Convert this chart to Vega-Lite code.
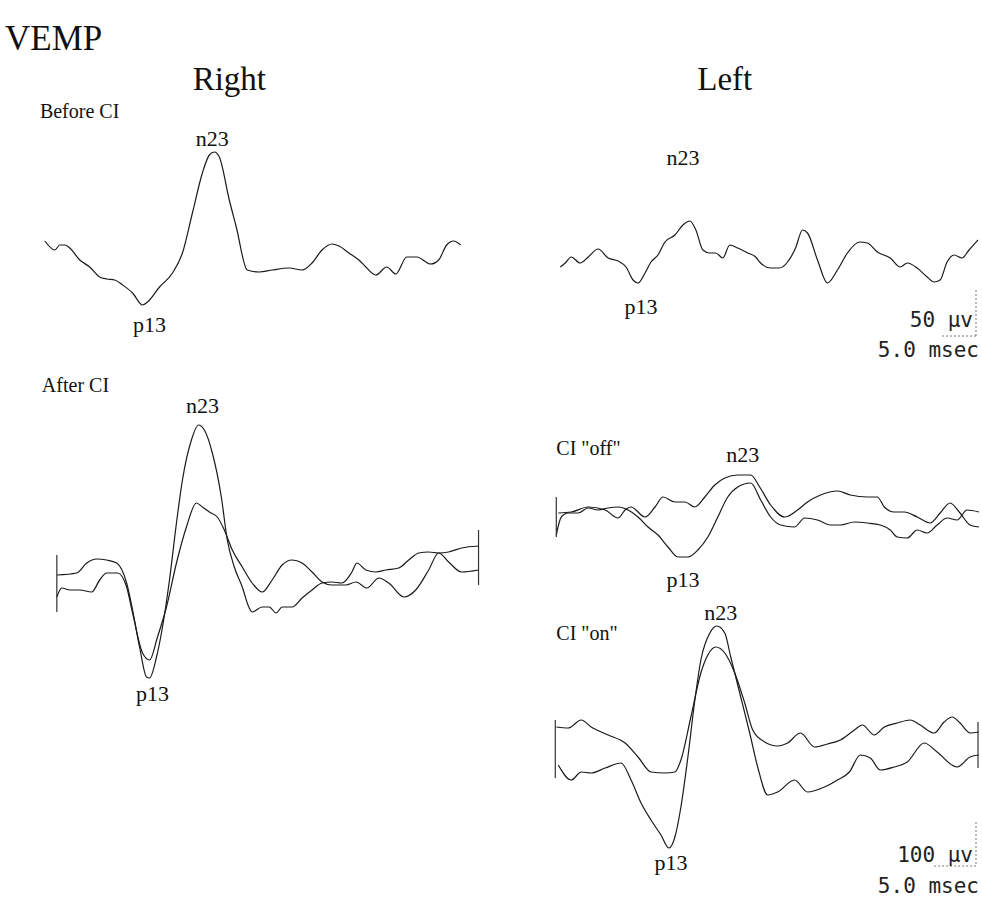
{
  "$schema": "https://vega.github.io/schema/vega-lite/v6.json",
  "width": 982,
  "height": 900,
  "autosize": {"type": "fit", "contains": "padding"},
  "padding": 0,
  "background": "white",
  "config": {"view": {"stroke": null}},
  "datasets": {
    "traces": [
      {"trace": "R_before", "x": 45, "y": 241}, {"trace": "R_before", "x": 55, "y": 250}, {"trace": "R_before", "x": 60, "y": 245}, {"trace": "R_before", "x": 65, "y": 245}, {"trace": "R_before", "x": 70, "y": 248}, {"trace": "R_before", "x": 80, "y": 260}, {"trace": "R_before", "x": 90, "y": 267}, {"trace": "R_before", "x": 100, "y": 277}, {"trace": "R_before", "x": 107, "y": 279}, {"trace": "R_before", "x": 115, "y": 280}, {"trace": "R_before", "x": 123, "y": 285}, {"trace": "R_before", "x": 133, "y": 293}, {"trace": "R_before", "x": 143, "y": 305}, {"trace": "R_before", "x": 148, "y": 302}, {"trace": "R_before", "x": 160, "y": 287}, {"trace": "R_before", "x": 173, "y": 273}, {"trace": "R_before", "x": 183, "y": 253}, {"trace": "R_before", "x": 193, "y": 213}, {"trace": "R_before", "x": 203, "y": 173}, {"trace": "R_before", "x": 210, "y": 155}, {"trace": "R_before", "x": 215, "y": 152}, {"trace": "R_before", "x": 220, "y": 157}, {"trace": "R_before", "x": 230, "y": 200}, {"trace": "R_before", "x": 237, "y": 227}, {"trace": "R_before", "x": 248, "y": 270}, {"trace": "R_before", "x": 260, "y": 272}, {"trace": "R_before", "x": 273, "y": 270}, {"trace": "R_before", "x": 290, "y": 268}, {"trace": "R_before", "x": 303, "y": 270}, {"trace": "R_before", "x": 313, "y": 263}, {"trace": "R_before", "x": 323, "y": 250}, {"trace": "R_before", "x": 333, "y": 244}, {"trace": "R_before", "x": 340, "y": 246}, {"trace": "R_before", "x": 350, "y": 253}, {"trace": "R_before", "x": 360, "y": 260}, {"trace": "R_before", "x": 367, "y": 267}, {"trace": "R_before", "x": 377, "y": 275}, {"trace": "R_before", "x": 388, "y": 267}, {"trace": "R_before", "x": 397, "y": 274}, {"trace": "R_before", "x": 408, "y": 257}, {"trace": "R_before", "x": 418, "y": 257}, {"trace": "R_before", "x": 432, "y": 264}, {"trace": "R_before", "x": 440, "y": 260}, {"trace": "R_before", "x": 448, "y": 245}, {"trace": "R_before", "x": 455, "y": 241}, {"trace": "R_before", "x": 462, "y": 245},

      {"trace": "L_before", "x": 562, "y": 267}, {"trace": "L_before", "x": 567, "y": 263}, {"trace": "L_before", "x": 573, "y": 257}, {"trace": "L_before", "x": 582, "y": 263}, {"trace": "L_before", "x": 590, "y": 257}, {"trace": "L_before", "x": 600, "y": 249}, {"trace": "L_before", "x": 610, "y": 258}, {"trace": "L_before", "x": 620, "y": 261}, {"trace": "L_before", "x": 628, "y": 267}, {"trace": "L_before", "x": 635, "y": 280}, {"trace": "L_before", "x": 640, "y": 283}, {"trace": "L_before", "x": 647, "y": 273}, {"trace": "L_before", "x": 653, "y": 262}, {"trace": "L_before", "x": 660, "y": 255}, {"trace": "L_before", "x": 667, "y": 242}, {"trace": "L_before", "x": 677, "y": 235}, {"trace": "L_before", "x": 685, "y": 225}, {"trace": "L_before", "x": 692, "y": 221}, {"trace": "L_before", "x": 698, "y": 230}, {"trace": "L_before", "x": 705, "y": 250}, {"trace": "L_before", "x": 712, "y": 253}, {"trace": "L_before", "x": 718, "y": 253}, {"trace": "L_before", "x": 725, "y": 258}, {"trace": "L_before", "x": 732, "y": 245}, {"trace": "L_before", "x": 740, "y": 248}, {"trace": "L_before", "x": 750, "y": 253}, {"trace": "L_before", "x": 758, "y": 257}, {"trace": "L_before", "x": 762, "y": 262}, {"trace": "L_before", "x": 773, "y": 268}, {"trace": "L_before", "x": 782, "y": 268}, {"trace": "L_before", "x": 790, "y": 262}, {"trace": "L_before", "x": 798, "y": 248}, {"trace": "L_before", "x": 805, "y": 230}, {"trace": "L_before", "x": 810, "y": 233}, {"trace": "L_before", "x": 820, "y": 260}, {"trace": "L_before", "x": 830, "y": 283}, {"trace": "L_before", "x": 840, "y": 270}, {"trace": "L_before", "x": 850, "y": 253}, {"trace": "L_before", "x": 862, "y": 242}, {"trace": "L_before", "x": 870, "y": 243}, {"trace": "L_before", "x": 880, "y": 252}, {"trace": "L_before", "x": 893, "y": 258}, {"trace": "L_before", "x": 903, "y": 267}, {"trace": "L_before", "x": 910, "y": 263}, {"trace": "L_before", "x": 920, "y": 268}, {"trace": "L_before", "x": 930, "y": 277}, {"trace": "L_before", "x": 937, "y": 282}, {"trace": "L_before", "x": 943, "y": 280}, {"trace": "L_before", "x": 950, "y": 262}, {"trace": "L_before", "x": 957, "y": 255}, {"trace": "L_before", "x": 965, "y": 258}, {"trace": "L_before", "x": 972, "y": 250}, {"trace": "L_before", "x": 981, "y": 240},

      {"trace": "R_after_a", "x": 57, "y": 575}, {"trace": "R_after_a", "x": 77, "y": 573}, {"trace": "R_after_a", "x": 87, "y": 563}, {"trace": "R_after_a", "x": 97, "y": 559}, {"trace": "R_after_a", "x": 107, "y": 560}, {"trace": "R_after_a", "x": 117, "y": 563}, {"trace": "R_after_a", "x": 127, "y": 583}, {"trace": "R_after_a", "x": 133, "y": 610}, {"trace": "R_after_a", "x": 140, "y": 647}, {"trace": "R_after_a", "x": 147, "y": 677}, {"trace": "R_after_a", "x": 150, "y": 678}, {"trace": "R_after_a", "x": 157, "y": 657}, {"trace": "R_after_a", "x": 163, "y": 627}, {"trace": "R_after_a", "x": 170, "y": 580}, {"trace": "R_after_a", "x": 177, "y": 523}, {"trace": "R_after_a", "x": 183, "y": 480}, {"trace": "R_after_a", "x": 192, "y": 440}, {"trace": "R_after_a", "x": 199, "y": 425}, {"trace": "R_after_a", "x": 205, "y": 430}, {"trace": "R_after_a", "x": 213, "y": 453}, {"trace": "R_after_a", "x": 222, "y": 497}, {"trace": "R_after_a", "x": 228, "y": 540}, {"trace": "R_after_a", "x": 235, "y": 567}, {"trace": "R_after_a", "x": 243, "y": 587}, {"trace": "R_after_a", "x": 250, "y": 608}, {"trace": "R_after_a", "x": 253, "y": 612}, {"trace": "R_after_a", "x": 263, "y": 607}, {"trace": "R_after_a", "x": 270, "y": 607}, {"trace": "R_after_a", "x": 277, "y": 613}, {"trace": "R_after_a", "x": 283, "y": 607}, {"trace": "R_after_a", "x": 293, "y": 607}, {"trace": "R_after_a", "x": 303, "y": 598}, {"trace": "R_after_a", "x": 313, "y": 590}, {"trace": "R_after_a", "x": 323, "y": 583}, {"trace": "R_after_a", "x": 333, "y": 582}, {"trace": "R_after_a", "x": 343, "y": 583}, {"trace": "R_after_a", "x": 353, "y": 572}, {"trace": "R_after_a", "x": 358, "y": 563}, {"trace": "R_after_a", "x": 367, "y": 570}, {"trace": "R_after_a", "x": 377, "y": 572}, {"trace": "R_after_a", "x": 387, "y": 570}, {"trace": "R_after_a", "x": 400, "y": 568}, {"trace": "R_after_a", "x": 410, "y": 560}, {"trace": "R_after_a", "x": 420, "y": 553}, {"trace": "R_after_a", "x": 430, "y": 552}, {"trace": "R_after_a", "x": 440, "y": 553}, {"trace": "R_after_a", "x": 450, "y": 552}, {"trace": "R_after_a", "x": 463, "y": 548}, {"trace": "R_after_a", "x": 480, "y": 546},

      {"trace": "R_after_b", "x": 57, "y": 597}, {"trace": "R_after_b", "x": 62, "y": 588}, {"trace": "R_after_b", "x": 70, "y": 590}, {"trace": "R_after_b", "x": 80, "y": 590}, {"trace": "R_after_b", "x": 92, "y": 592}, {"trace": "R_after_b", "x": 100, "y": 580}, {"trace": "R_after_b", "x": 107, "y": 573}, {"trace": "R_after_b", "x": 118, "y": 573}, {"trace": "R_after_b", "x": 127, "y": 587}, {"trace": "R_after_b", "x": 133, "y": 613}, {"trace": "R_after_b", "x": 143, "y": 653}, {"trace": "R_after_b", "x": 150, "y": 660}, {"trace": "R_after_b", "x": 158, "y": 637}, {"trace": "R_after_b", "x": 167, "y": 607}, {"trace": "R_after_b", "x": 177, "y": 563}, {"trace": "R_after_b", "x": 187, "y": 527}, {"trace": "R_after_b", "x": 197, "y": 503}, {"trace": "R_after_b", "x": 203, "y": 507}, {"trace": "R_after_b", "x": 210, "y": 512}, {"trace": "R_after_b", "x": 218, "y": 517}, {"trace": "R_after_b", "x": 225, "y": 530}, {"trace": "R_after_b", "x": 233, "y": 550}, {"trace": "R_after_b", "x": 243, "y": 567}, {"trace": "R_after_b", "x": 253, "y": 583}, {"trace": "R_after_b", "x": 263, "y": 592}, {"trace": "R_after_b", "x": 273, "y": 580}, {"trace": "R_after_b", "x": 283, "y": 565}, {"trace": "R_after_b", "x": 293, "y": 560}, {"trace": "R_after_b", "x": 303, "y": 563}, {"trace": "R_after_b", "x": 313, "y": 572}, {"trace": "R_after_b", "x": 323, "y": 582}, {"trace": "R_after_b", "x": 333, "y": 585}, {"trace": "R_after_b", "x": 347, "y": 585}, {"trace": "R_after_b", "x": 357, "y": 582}, {"trace": "R_after_b", "x": 368, "y": 588}, {"trace": "R_after_b", "x": 380, "y": 578}, {"trace": "R_after_b", "x": 390, "y": 583}, {"trace": "R_after_b", "x": 405, "y": 597}, {"trace": "R_after_b", "x": 417, "y": 590}, {"trace": "R_after_b", "x": 430, "y": 570}, {"trace": "R_after_b", "x": 440, "y": 553}, {"trace": "R_after_b", "x": 450, "y": 562}, {"trace": "R_after_b", "x": 463, "y": 572}, {"trace": "R_after_b", "x": 480, "y": 570},

      {"trace": "L_off_a", "x": 558, "y": 535}, {"trace": "L_off_a", "x": 563, "y": 517}, {"trace": "L_off_a", "x": 570, "y": 513}, {"trace": "L_off_a", "x": 580, "y": 513}, {"trace": "L_off_a", "x": 590, "y": 508}, {"trace": "L_off_a", "x": 600, "y": 510}, {"trace": "L_off_a", "x": 610, "y": 508}, {"trace": "L_off_a", "x": 620, "y": 507}, {"trace": "L_off_a", "x": 630, "y": 510}, {"trace": "L_off_a", "x": 640, "y": 517}, {"trace": "L_off_a", "x": 650, "y": 527}, {"trace": "L_off_a", "x": 660, "y": 535}, {"trace": "L_off_a", "x": 670, "y": 547}, {"trace": "L_off_a", "x": 680, "y": 557}, {"trace": "L_off_a", "x": 690, "y": 557}, {"trace": "L_off_a", "x": 700, "y": 550}, {"trace": "L_off_a", "x": 710, "y": 537}, {"trace": "L_off_a", "x": 720, "y": 517}, {"trace": "L_off_a", "x": 730, "y": 497}, {"trace": "L_off_a", "x": 740, "y": 487}, {"trace": "L_off_a", "x": 753, "y": 483}, {"trace": "L_off_a", "x": 763, "y": 500}, {"trace": "L_off_a", "x": 773, "y": 517}, {"trace": "L_off_a", "x": 783, "y": 525}, {"trace": "L_off_a", "x": 797, "y": 527}, {"trace": "L_off_a", "x": 807, "y": 518}, {"trace": "L_off_a", "x": 820, "y": 520}, {"trace": "L_off_a", "x": 833, "y": 525}, {"trace": "L_off_a", "x": 843, "y": 525}, {"trace": "L_off_a", "x": 857, "y": 522}, {"trace": "L_off_a", "x": 870, "y": 523}, {"trace": "L_off_a", "x": 883, "y": 525}, {"trace": "L_off_a", "x": 893, "y": 530}, {"trace": "L_off_a", "x": 900, "y": 537}, {"trace": "L_off_a", "x": 910, "y": 538}, {"trace": "L_off_a", "x": 920, "y": 530}, {"trace": "L_off_a", "x": 930, "y": 533}, {"trace": "L_off_a", "x": 940, "y": 525}, {"trace": "L_off_a", "x": 950, "y": 518}, {"trace": "L_off_a", "x": 960, "y": 520}, {"trace": "L_off_a", "x": 970, "y": 510}, {"trace": "L_off_a", "x": 982, "y": 512},

      {"trace": "L_off_b", "x": 560, "y": 513}, {"trace": "L_off_b", "x": 573, "y": 512}, {"trace": "L_off_b", "x": 590, "y": 507}, {"trace": "L_off_b", "x": 607, "y": 510}, {"trace": "L_off_b", "x": 620, "y": 518}, {"trace": "L_off_b", "x": 627, "y": 510}, {"trace": "L_off_b", "x": 633, "y": 507}, {"trace": "L_off_b", "x": 647, "y": 517}, {"trace": "L_off_b", "x": 657, "y": 507}, {"trace": "L_off_b", "x": 665, "y": 497}, {"trace": "L_off_b", "x": 677, "y": 502}, {"trace": "L_off_b", "x": 687, "y": 502}, {"trace": "L_off_b", "x": 697, "y": 507}, {"trace": "L_off_b", "x": 707, "y": 497}, {"trace": "L_off_b", "x": 717, "y": 485}, {"trace": "L_off_b", "x": 727, "y": 478}, {"trace": "L_off_b", "x": 740, "y": 475}, {"trace": "L_off_b", "x": 753, "y": 475}, {"trace": "L_off_b", "x": 762, "y": 487}, {"trace": "L_off_b", "x": 773, "y": 505}, {"trace": "L_off_b", "x": 787, "y": 517}, {"trace": "L_off_b", "x": 800, "y": 510}, {"trace": "L_off_b", "x": 810, "y": 502}, {"trace": "L_off_b", "x": 823, "y": 495}, {"trace": "L_off_b", "x": 840, "y": 491}, {"trace": "L_off_b", "x": 853, "y": 495}, {"trace": "L_off_b", "x": 870, "y": 497}, {"trace": "L_off_b", "x": 880, "y": 497}, {"trace": "L_off_b", "x": 887, "y": 507}, {"trace": "L_off_b", "x": 897, "y": 512}, {"trace": "L_off_b", "x": 907, "y": 512}, {"trace": "L_off_b", "x": 920, "y": 517}, {"trace": "L_off_b", "x": 933, "y": 523}, {"trace": "L_off_b", "x": 943, "y": 513}, {"trace": "L_off_b", "x": 953, "y": 503}, {"trace": "L_off_b", "x": 963, "y": 513}, {"trace": "L_off_b", "x": 973, "y": 525}, {"trace": "L_off_b", "x": 982, "y": 527},

      {"trace": "L_on_a", "x": 558, "y": 727}, {"trace": "L_on_a", "x": 570, "y": 728}, {"trace": "L_on_a", "x": 583, "y": 720}, {"trace": "L_on_a", "x": 593, "y": 727}, {"trace": "L_on_a", "x": 610, "y": 735}, {"trace": "L_on_a", "x": 627, "y": 743}, {"trace": "L_on_a", "x": 640, "y": 757}, {"trace": "L_on_a", "x": 653, "y": 772}, {"trace": "L_on_a", "x": 667, "y": 773}, {"trace": "L_on_a", "x": 677, "y": 772}, {"trace": "L_on_a", "x": 683, "y": 760}, {"trace": "L_on_a", "x": 693, "y": 717}, {"trace": "L_on_a", "x": 703, "y": 673}, {"trace": "L_on_a", "x": 710, "y": 655}, {"trace": "L_on_a", "x": 718, "y": 647}, {"trace": "L_on_a", "x": 727, "y": 653}, {"trace": "L_on_a", "x": 737, "y": 673}, {"trace": "L_on_a", "x": 747, "y": 703}, {"trace": "L_on_a", "x": 755, "y": 730}, {"trace": "L_on_a", "x": 767, "y": 742}, {"trace": "L_on_a", "x": 780, "y": 746}, {"trace": "L_on_a", "x": 790, "y": 743}, {"trace": "L_on_a", "x": 803, "y": 733}, {"trace": "L_on_a", "x": 817, "y": 747}, {"trace": "L_on_a", "x": 830, "y": 744}, {"trace": "L_on_a", "x": 843, "y": 740}, {"trace": "L_on_a", "x": 857, "y": 730}, {"trace": "L_on_a", "x": 865, "y": 725}, {"trace": "L_on_a", "x": 877, "y": 735}, {"trace": "L_on_a", "x": 887, "y": 727}, {"trace": "L_on_a", "x": 900, "y": 723}, {"trace": "L_on_a", "x": 913, "y": 720}, {"trace": "L_on_a", "x": 923, "y": 725}, {"trace": "L_on_a", "x": 937, "y": 733}, {"trace": "L_on_a", "x": 947, "y": 722}, {"trace": "L_on_a", "x": 955, "y": 717}, {"trace": "L_on_a", "x": 963, "y": 723}, {"trace": "L_on_a", "x": 973, "y": 733}, {"trace": "L_on_a", "x": 982, "y": 732},

      {"trace": "L_on_b", "x": 560, "y": 765}, {"trace": "L_on_b", "x": 573, "y": 780}, {"trace": "L_on_b", "x": 583, "y": 772}, {"trace": "L_on_b", "x": 593, "y": 773}, {"trace": "L_on_b", "x": 607, "y": 768}, {"trace": "L_on_b", "x": 623, "y": 763}, {"trace": "L_on_b", "x": 633, "y": 780}, {"trace": "L_on_b", "x": 643, "y": 803}, {"trace": "L_on_b", "x": 653, "y": 820}, {"trace": "L_on_b", "x": 663, "y": 835}, {"trace": "L_on_b", "x": 671, "y": 848}, {"trace": "L_on_b", "x": 677, "y": 837}, {"trace": "L_on_b", "x": 683, "y": 807}, {"trace": "L_on_b", "x": 690, "y": 757}, {"trace": "L_on_b", "x": 697, "y": 700}, {"trace": "L_on_b", "x": 703, "y": 660}, {"trace": "L_on_b", "x": 712, "y": 633}, {"trace": "L_on_b", "x": 719, "y": 626}, {"trace": "L_on_b", "x": 727, "y": 633}, {"trace": "L_on_b", "x": 733, "y": 657}, {"trace": "L_on_b", "x": 743, "y": 697}, {"trace": "L_on_b", "x": 752, "y": 733}, {"trace": "L_on_b", "x": 760, "y": 767}, {"trace": "L_on_b", "x": 770, "y": 795}, {"trace": "L_on_b", "x": 780, "y": 792}, {"trace": "L_on_b", "x": 797, "y": 780}, {"trace": "L_on_b", "x": 810, "y": 792}, {"trace": "L_on_b", "x": 827, "y": 787}, {"trace": "L_on_b", "x": 840, "y": 780}, {"trace": "L_on_b", "x": 852, "y": 772}, {"trace": "L_on_b", "x": 863, "y": 755}, {"trace": "L_on_b", "x": 873, "y": 758}, {"trace": "L_on_b", "x": 883, "y": 770}, {"trace": "L_on_b", "x": 897, "y": 767}, {"trace": "L_on_b", "x": 910, "y": 762}, {"trace": "L_on_b", "x": 927, "y": 743}, {"trace": "L_on_b", "x": 940, "y": 752}, {"trace": "L_on_b", "x": 960, "y": 767}, {"trace": "L_on_b", "x": 973, "y": 757}, {"trace": "L_on_b", "x": 982, "y": 755}
    ],
    "brackets": [
      {"x": 57, "y": 555, "x2": 57, "y2": 612},
      {"x": 480, "y": 530, "x2": 480, "y2": 585},
      {"x": 558, "y": 497, "x2": 558, "y2": 537},
      {"x": 557, "y": 720, "x2": 557, "y2": 778},
      {"x": 981, "y": 722, "x2": 981, "y2": 768}
    ],
    "scalebars": [
      {"x": 979, "y": 290, "x2": 979, "y2": 336},
      {"x": 945, "y": 336, "x2": 979, "y2": 336},
      {"x": 979, "y": 822, "x2": 979, "y2": 866},
      {"x": 937, "y": 866, "x2": 979, "y2": 866}
    ],
    "bigtitle": [{"label": "VEMP", "x": 5, "y": 50}],
    "sides": [{"label": "Right", "x": 230, "y": 90}, {"label": "Left", "x": 727, "y": 90}],
    "conditions": [
      {"label": "Before CI", "x": 40, "y": 118},
      {"label": "After CI", "x": 42, "y": 392},
      {"label": "CI \"off\"", "x": 558, "y": 455},
      {"label": "CI \"on\"", "x": 558, "y": 640}
    ],
    "peaks": [
      {"label": "n23", "x": 213, "y": 146},
      {"label": "p13", "x": 150, "y": 332},
      {"label": "n23", "x": 685, "y": 165},
      {"label": "p13", "x": 643, "y": 314},
      {"label": "n23", "x": 203, "y": 413},
      {"label": "p13", "x": 153, "y": 701},
      {"label": "n23", "x": 745, "y": 462},
      {"label": "p13", "x": 685, "y": 587},
      {"label": "n23", "x": 723, "y": 620},
      {"label": "p13", "x": 673, "y": 870}
    ],
    "scaletext": [
      {"label": "50 μv", "x": 976, "y": 327},
      {"label": "5.0 msec", "x": 982, "y": 357},
      {"label": "100 μv", "x": 976, "y": 862},
      {"label": "5.0 msec", "x": 982, "y": 893}
    ]
  },
  "layer": [
    {
      "data": {"name": "traces"},
      "mark": {"type": "line", "color": "#1a1a1a", "strokeWidth": 1.2, "interpolate": "monotone"},
      "encoding": {
        "x": {"field": "x", "type": "quantitative", "scale": {"domain": [0, 982], "nice": false, "zero": false}, "axis": null},
        "y": {"field": "y", "type": "quantitative", "scale": {"domain": [0, 900], "nice": false, "zero": false, "reverse": true}, "axis": null},
        "detail": {"field": "trace"}
      }
    },
    {
      "data": {"name": "brackets"},
      "mark": {"type": "rule", "color": "#333", "strokeWidth": 1.2},
      "encoding": {
        "x": {"field": "x", "type": "quantitative"},
        "y": {"field": "y", "type": "quantitative"},
        "x2": {"field": "x2"},
        "y2": {"field": "y2"}
      }
    },
    {
      "data": {"name": "scalebars"},
      "mark": {"type": "rule", "color": "#777", "strokeWidth": 1, "strokeDash": [2, 2]},
      "encoding": {
        "x": {"field": "x", "type": "quantitative"},
        "y": {"field": "y", "type": "quantitative"},
        "x2": {"field": "x2"},
        "y2": {"field": "y2"}
      }
    },
    {
      "data": {"name": "bigtitle"},
      "mark": {"type": "text", "font": "Liberation Serif", "fontSize": 35, "align": "left", "baseline": "alphabetic", "color": "#111"},
      "encoding": {
        "x": {"field": "x", "type": "quantitative"},
        "y": {"field": "y", "type": "quantitative"},
        "text": {"field": "label"}
      }
    },
    {
      "data": {"name": "sides"},
      "mark": {"type": "text", "font": "Liberation Serif", "fontSize": 33, "align": "center", "baseline": "alphabetic", "color": "#111"},
      "encoding": {
        "x": {"field": "x", "type": "quantitative"},
        "y": {"field": "y", "type": "quantitative"},
        "text": {"field": "label"}
      }
    },
    {
      "data": {"name": "conditions"},
      "mark": {"type": "text", "font": "Liberation Serif", "fontSize": 20, "align": "left", "baseline": "alphabetic", "color": "#111"},
      "encoding": {
        "x": {"field": "x", "type": "quantitative"},
        "y": {"field": "y", "type": "quantitative"},
        "text": {"field": "label"}
      }
    },
    {
      "data": {"name": "peaks"},
      "mark": {"type": "text", "font": "Liberation Serif", "fontSize": 22, "align": "center", "baseline": "alphabetic", "color": "#111"},
      "encoding": {
        "x": {"field": "x", "type": "quantitative"},
        "y": {"field": "y", "type": "quantitative"},
        "text": {"field": "label"}
      }
    },
    {
      "data": {"name": "scaletext"},
      "mark": {"type": "text", "font": "DejaVu Sans Mono", "fontSize": 21, "fontWeight": 300, "align": "right", "baseline": "alphabetic", "color": "#222"},
      "encoding": {
        "x": {"field": "x", "type": "quantitative"},
        "y": {"field": "y", "type": "quantitative"},
        "text": {"field": "label"}
      }
    }
  ]
}
